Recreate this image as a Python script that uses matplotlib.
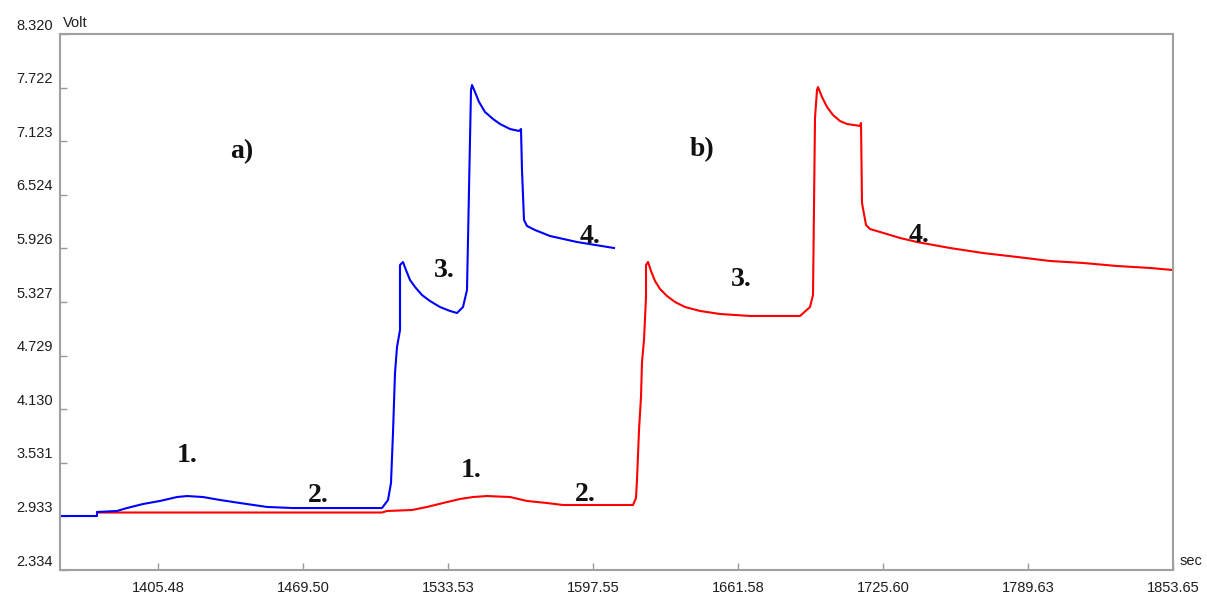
import matplotlib
matplotlib.use('Agg')
import matplotlib.pyplot as plt
from matplotlib.transforms import ScaledTranslation

# blue trace a) : time (sec), voltage (Volt)
blue_t = [1362.21, 1378.55, 1378.55, 1387.38, 1391.79, 1398.86, 1406.36, 1413.87, 1418.28, 1425.35,
          1432.86, 1441.69, 1453.61, 1465.09, 1504.39, 1507.04, 1508.36, 1509.24, 1510.13, 1511.01,
          1512.34, 1512.34, 1513.66, 1514.98, 1516.75, 1518.96, 1522.05, 1525.58, 1530.00, 1534.41,
          1537.50, 1540.15, 1541.92, 1543.24, 1543.69, 1544.13, 1545.45, 1547.22, 1549.87, 1553.40,
          1556.49, 1560.91, 1564.88, 1565.76, 1566.20, 1567.09, 1568.41, 1571.94, 1578.57, 1590.49,
          1606.83]
blue_v = [2.937, 2.937, 2.982, 2.993, 3.026, 3.071, 3.105, 3.149, 3.160, 3.149,
          3.116, 3.082, 3.038, 3.026, 3.026, 3.116, 3.306, 3.864, 4.534, 4.824,
          5.014, 5.740, 5.774, 5.684, 5.573, 5.495, 5.405, 5.338, 5.271, 5.227,
          5.204, 5.271, 5.461, 7.136, 7.695, 7.750, 7.672, 7.561, 7.449, 7.371,
          7.315, 7.259, 7.237, 7.259, 6.801, 6.243, 6.176, 6.131, 6.064, 5.997,
          5.930]

# red trace b)
red_t = [1378.55, 1504.39, 1506.59, 1517.63, 1524.26, 1531.32, 1538.83, 1544.57, 1550.75, 1560.91,
         1568.41, 1577.24, 1584.31, 1615.22, 1616.54, 1616.98, 1617.87, 1618.75, 1619.19, 1620.07,
         1620.96, 1620.96, 1621.84, 1623.16, 1624.93, 1627.14, 1630.23, 1633.76, 1638.18, 1644.80,
         1653.63, 1666.88, 1688.96, 1693.37, 1694.69, 1695.58, 1696.46, 1696.90, 1698.67, 1700.88,
         1703.53, 1706.62, 1709.71, 1715.45, 1715.89, 1716.33, 1718.10, 1719.86, 1724.28, 1733.11,
         1740.62, 1755.19, 1769.76, 1784.77, 1799.34, 1813.91, 1828.93, 1843.50, 1853.21]
red_v = [2.976, 2.976, 2.993, 3.004, 3.038, 3.082, 3.127, 3.149, 3.160, 3.149,
         3.105, 3.082, 3.060, 3.060, 3.138, 3.339, 3.898, 4.266, 4.657, 4.903,
         5.383, 5.740, 5.774, 5.673, 5.562, 5.472, 5.394, 5.327, 5.271, 5.227,
         5.193, 5.171, 5.171, 5.271, 5.405, 7.382, 7.695, 7.728, 7.616, 7.505,
         7.415, 7.348, 7.315, 7.293, 7.326, 6.433, 6.187, 6.142, 6.109, 6.042,
         5.997, 5.930, 5.874, 5.830, 5.785, 5.763, 5.729, 5.707, 5.685]

y_ticks = [2.334, 2.933, 3.531, 4.130, 4.729, 5.327, 5.926, 6.524, 7.123, 7.722, 8.320]
y_labels = ['2.334', '2.933', '3.531', '4.130', '4.729', '5.327', '5.926', '6.524', '7.123', '7.722', '8.320']
x_ticks = [1405.48, 1469.50, 1533.53, 1597.55, 1661.58, 1725.60, 1789.63, 1853.65]
x_labels = ['1405.48', '1469.50', '1533.53', '1597.55', '1661.58', '1725.60', '1789.63', '1853.65']

# annotations: (text, x in sec, y in Volt)
notes = [('a)', 1442.3, 7.01), ('b)', 1645.9, 7.03),
         ('1.', 1418.3, 3.61), ('2.', 1476.1, 3.17), ('3.', 1531.8, 5.68), ('4.', 1596.3, 6.06),
         ('1.', 1543.7, 3.44), ('2.', 1594.3, 3.18), ('3.', 1663.0, 5.58), ('4.', 1741.5, 6.07)]

fig = plt.figure(figsize=(12.07, 6.10), dpi=100)
ax = fig.add_axes([60/1207, 1 - 570/610, (1173 - 60)/1207, (570 - 34)/610])

ax.plot(red_t, red_v, color='#ff0000', lw=1.5)
ax.plot(blue_t, blue_v, color='#0000ff', lw=1.5)

ax.set_xlim(1362.21, 1853.65)
ax.set_ylim(2.334, 8.320)

tick_col = '#1e1e1e'
ax.set_yticks(y_ticks, y_labels)
ax.set_xticks(x_ticks, x_labels)
ax.tick_params(direction='in', length=5, width=1, color='#999999',
               labelsize=10.5, labelcolor=tick_col, labelfontfamily='Liberation Sans')
ax.tick_params(axis='x', pad=8)
ax.tick_params(axis='y', pad=5)

# y labels sit above their tick marks
off = ScaledTranslation(0, 10/100, fig.dpi_scale_trans)
for lab in ax.get_yticklabels():
    lab.set_transform(lab.get_transform() + off)

for sp in ax.spines.values():
    sp.set_color('#a0a0a0')
    sp.set_linewidth(1.5)

for txt, x, y in notes:
    ax.text(x, y, txt, ha='center', va='center', fontsize=20, fontweight='bold',
            family='Liberation Serif', color='#111111')

fig.text(63/1207, 1 - 23/610, 'Volt', ha='left', va='center', fontsize=10.5,
         family='Liberation Sans', color=tick_col)
fig.text(1180/1207, 1 - 561/610, 'sec', ha='left', va='center', fontsize=10.5,
         family='Liberation Sans', color=tick_col)

fig.savefig('out.png', dpi=100)
